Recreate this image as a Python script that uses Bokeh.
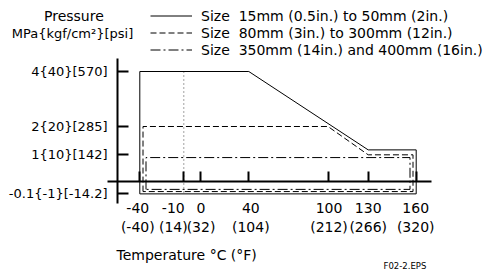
import numpy as np
from bokeh.plotting import figure
from bokeh.models import Range1d, LinearAxis, FixedTicker, Label, Legend, LegendItem
from bokeh.embed import file_html
from bokeh.resources import INLINE

# ---------------- data ----------------
TEMP_TICKS_C = [-40, -10, 0, 40, 100, 130, 160]
TEMP_TICKS_F = [-40, 14, 32, 104, 212, 266, 320]
PRESSURE_TICKS_MPA = [4, 2, 1, -0.1]
PRESSURE_TICK_LABELS = ["4{40}[570]", "2{20}[285]", "1{10}[142]", "-0.1{-1}[-14.2]"]
SIZE_LABELS = [
    "Size  15mm (0.5in.) to 50mm (2in.)",
    "Size  80mm (3in.) to 300mm (12in.)",
    "Size  350mm (14in.) and 400mm (16in.)",
]
# operating-range outlines: temperature (degC) / pressure (MPa)
SMALL_TEMP = [-40, -40, 40, 130, 160, 160, -40]
SMALL_PRES = [-0.1, 4, 4, 1.15, 1.15, -0.1, -0.1]
MID_TEMP = [-40, -40, 100, 130, 160, 160, -40]
MID_PRES = [-0.1, 2, 2, 0.97, 0.97, -0.1, -0.1]
LARGE_TEMP = [-40, -40, 160, 160, -40]
LARGE_PRES = [-0.1, 0.87, 0.87, -0.1, -0.1]
REF_TEMP = -10          # dotted reference line
REF_PRES = [4, -0.1]

# ---------------- layout (page pixels) ----------------
W, H = 486, 269
TICK_POS_PX = [139.3, 183.3, 200.0, 248.3, 327.5, 367.7, 415.7]   # schematic temperature scale
LABEL_NUDGE_PX = [-2.0, -10.5, 0.5, 2.0, 1.0, 0.0, -0.5]
ZERO_Y_PX = 181.0
PX_PER_MPA = 27.5
NEG_STRETCH = 4.5
YAXIS_X_PX = 117.0
YAXIS_SPAN_PX = (58.0, 203.0)
XAXIS_SPAN_PX = (107.0, 431.0)
TLABEL_AXIS_Y_PX = 199.0
INSET_X = [0.0, 3.2, 6.2]
INSET_Y = [0.0, 2.3, 4.5]
FONT = "DejaVu Sans"


def ly(page_y):
    return (ZERO_Y_PX - page_y) / PX_PER_MPA


def tx(t):
    return np.interp(np.asarray(t, float), TEMP_TICKS_C, TICK_POS_PX)


def py(pr):
    pr = np.asarray(pr, float)
    return np.where(pr < 0, pr * NEG_STRETCH, pr)


def outline(temps, pres, k):
    t = np.asarray(temps, float)
    pr = np.asarray(pres, float)
    x = tx(t)
    x = np.where(t == min(TEMP_TICKS_C), x + INSET_X[k], x)
    x = np.where(t == max(TEMP_TICKS_C), x - INSET_X[k], x)
    y = py(pr)
    y = np.where(pr == min(PRESSURE_TICKS_MPA), y + INSET_Y[k] / PX_PER_MPA, y)
    return list(x), list(y)


p = figure(
    width=W, height=H, output_backend="svg", toolbar_location=None,
    x_range=Range1d(0, W), y_range=Range1d(ly(H), ly(0)),
    x_axis_type=None, y_axis_type=None,
    min_border=0,
)
p.outline_line_color = None
p.background_fill_color = "white"
p.border_fill_color = "white"

# pressure axis
yt = [float(v) for v in py(PRESSURE_TICKS_MPA)]
yax = LinearAxis(
    fixed_location=YAXIS_X_PX, ticker=FixedTicker(ticks=yt),
    bounds=(ly(YAXIS_SPAN_PX[1]), ly(YAXIS_SPAN_PX[0])),
    major_label_overrides={v: s for v, s in zip(yt, PRESSURE_TICK_LABELS)},
)
yax.axis_line_width = 2
yax.major_tick_line_width = 2
yax.major_tick_in = 11
yax.major_tick_out = 0
yax.minor_tick_line_color = None
yax.major_label_standoff = 10
yax.major_label_text_font = FONT
yax.major_label_text_font_size = "13px"
yax.major_label_text_color = "black"
p.add_layout(yax, "left")

# temperature axis line with ticks at 0 MPa
xt = [float(v) for v in tx(TEMP_TICKS_C)]
xax = LinearAxis(fixed_location=0, ticker=FixedTicker(ticks=xt), bounds=XAXIS_SPAN_PX)
xax.axis_line_width = 2
xax.major_tick_line_width = 2
xax.major_tick_in = 10
xax.major_tick_out = 0
xax.minor_tick_line_color = None
xax.major_label_text_color = None
p.add_layout(xax, "below")

# temperature labels
lt = [float(v + n) for v, n in zip(tx(TEMP_TICKS_C), LABEL_NUDGE_PX)]
lax = LinearAxis(
    fixed_location=ly(TLABEL_AXIS_Y_PX),
    ticker=FixedTicker(ticks=lt),
    major_label_overrides={v: f"{c}\n({f})" for v, c, f in zip(lt, TEMP_TICKS_C, TEMP_TICKS_F)},
)
lax.axis_line_color = None
lax.major_tick_line_color = None
lax.minor_tick_line_color = None
lax.major_tick_out = 0
lax.major_tick_in = 0
lax.major_label_standoff = 0
lax.major_label_text_font = FONT
lax.major_label_text_font_size = "14px"
lax.major_label_text_color = "black"
p.add_layout(lax, "below")

# reference line
p.line([float(tx(REF_TEMP))] * 2, list(py(REF_PRES)), line_color="#444444", line_width=1, line_dash="1 3")

x1, y1 = outline(SMALL_TEMP, SMALL_PRES, 0)
x2, y2 = outline(MID_TEMP, MID_PRES, 1)
x3, y3 = outline(LARGE_TEMP, LARGE_PRES, 2)
r1 = p.line(x1, y1, line_color="black", line_width=1)
r2 = p.line(x2, y2, line_color="black", line_width=1, line_dash="6 3")
r3 = p.line(x3, y3, line_color="black", line_width=1, line_dash="10 3 2 3")

legend = Legend(
    items=[LegendItem(label=SIZE_LABELS[i], renderers=[r]) for i, r in enumerate([r1, r2, r3])],
    location=(150, H - 58),
    padding=0, margin=0, spacing=0,
    glyph_width=42, glyph_height=17, label_height=17, label_standoff=9,
    border_line_color=None, background_fill_alpha=0,
    label_text_font=FONT, label_text_font_size="14px", label_text_color="black",
)
p.add_layout(legend)

p.add_layout(Label(x=73.4, y=ly(15), text="Pressure", text_align="center", text_baseline="middle",
                   text_font=FONT, text_font_size="14px", text_color="black"))
p.add_layout(Label(x=72, y=ly(32.5), text="MPa{kgf/cm²}[psi]", text_align="center", text_baseline="middle",
                   text_font=FONT, text_font_size="13px", text_color="black"))
p.add_layout(Label(x=116, y=ly(254.7), text="Temperature °C (°F)", text_align="left", text_baseline="middle",
                   text_font=FONT, text_font_size="14px", text_color="black"))
p.add_layout(Label(x=383, y=ly(265), text="F02-2.EPS", text_align="left", text_baseline="middle",
                   text_font=FONT, text_font_size="8.5px", text_color="black"))

open("out.html", "w").write(file_html(p, INLINE))
